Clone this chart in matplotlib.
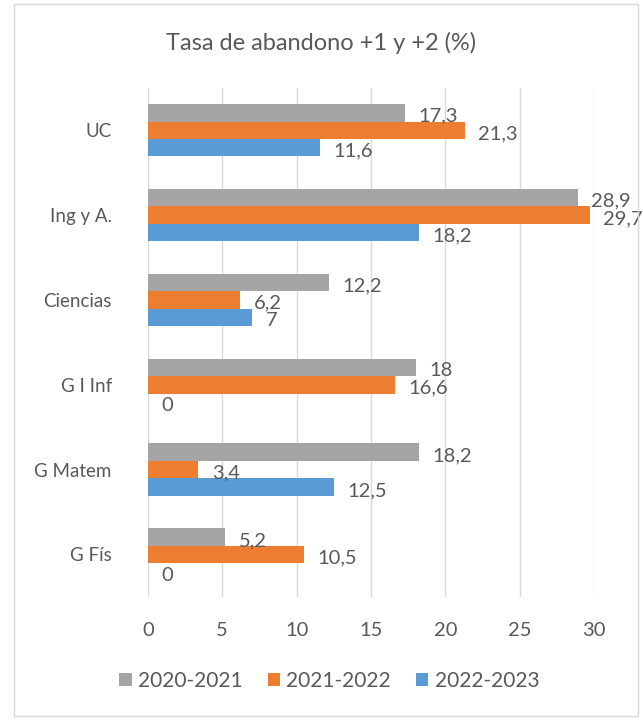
import matplotlib.pyplot as plt
from matplotlib.patches import Rectangle
import numpy as np

# Datos
categorias = ['UC', 'Ing y A.', 'Ciencias', 'G I Inf', 'G Matem', 'G Fís']
series = ['2020-2021', '2021-2022', '2022-2023']
v2020 = [17.3, 28.9, 12.2, 18, 18.2, 5.2]
v2021 = [21.3, 29.7, 6.2, 16.6, 3.4, 10.5]
v2022 = [11.6, 18.2, 7, 0, 12.5, 0]
colores = ['#A5A5A5', '#ED7D31', '#5B9BD5']

plt.rcParams['font.family'] = ['Lato', 'DejaVu Sans']
texto = '#595959'

fig = plt.figure(figsize=(6.43, 7.2), dpi=100)
ax = fig.add_axes([0.230, 0.171, 0.694, 0.707])

y = np.arange(len(categorias))[::-1]
h = 0.206
for i, (vals, col) in enumerate(zip([v2020, v2021, v2022], colores)):
    pos = y + h - i * h
    ax.barh(pos, vals, height=h, color=col, label=series[i], zorder=2)
    for p, v in zip(pos, vals):
        txt = ('%g' % v).replace('.', ',')
        ax.text(v + 0.9, p - 0.04, txt, va='center', ha='left',
                fontsize=14.5, color=texto)

ax.set_xlim(0, 30)
ax.set_ylim(-0.5, len(categorias) - 0.5)
ax.set_xticks(range(0, 31, 5))
ax.set_yticks(y)
ax.set_yticklabels(categorias)
ax.grid(axis='x', color='#D9D9D9', linewidth=1, zorder=0)
for s in ax.spines.values():
    s.set_visible(False)
ax.tick_params(length=0, labelsize=13.5, colors=texto)
ax.tick_params(axis='x', pad=18, labelsize=14.5)
ax.tick_params(axis='y', pad=26)

fig.text(0.5, 0.94, 'Tasa de abandono +1 y +2 (%)', ha='center', va='center',
         fontsize=17, color=texto)

fig.legend(loc='center', bbox_to_anchor=(0.512, 0.054), ncol=3, frameon=False,
           fontsize=15, handlelength=0.6, handleheight=0.6, columnspacing=1.2,
           handletextpad=0.3, labelcolor=texto)

fig.patches.append(Rectangle((0.022, 0.005), 0.971, 0.99, transform=fig.transFigure,
                             fill=False, edgecolor='#D9D9D9', linewidth=1))

fig.savefig('out.png', dpi=100)
